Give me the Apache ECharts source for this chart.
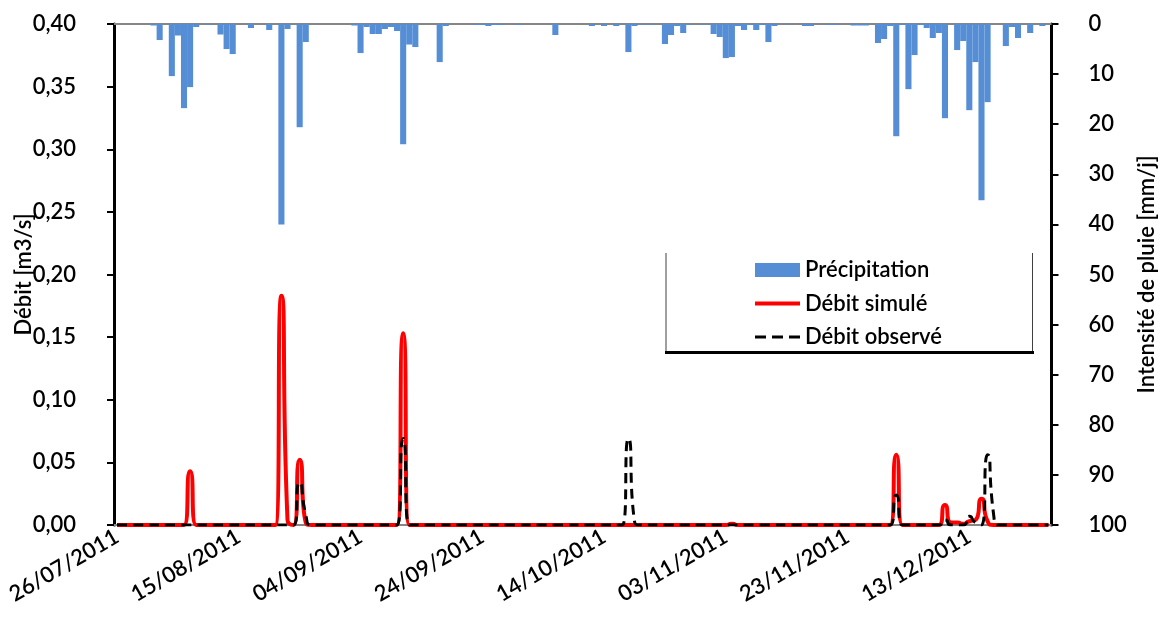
<!DOCTYPE html>
<html>
<head>
<meta charset="utf-8">
<script src="https://cdn.jsdelivr.net/npm/echarts@6/dist/echarts.min.js"></script>
<style>
html,body{margin:0;padding:0;background:#fff;}
#chart{width:1160px;height:623px;}
</style>
</head>
<body>
<div id="chart"></div>
<script>
// ---- data ----
const startDate = [2011, 7, 26];
const dayCount = 154;
const categories = [];
for (let i = 0; i < dayCount; i++) {
  const d = new Date(Date.UTC(startDate[0], startDate[1] - 1, startDate[2] + i));
  const dd = String(d.getUTCDate()).padStart(2, '0');
  const mm = String(d.getUTCMonth() + 1).padStart(2, '0');
  categories.push(dd + '/' + mm + '/' + d.getUTCFullYear());
}

// Précipitation [mm/j], one value per day
const rain = [
  0, 0, 0, 0, 0, 0, 0.3, 3.2, 0, 10.4,
  2.3, 16.8, 12.6, 0.6, 0, 0.2, 0, 2.1, 5.0, 6.0,
  0, 0, 0.8, 0, 0, 1.2, 0, 40.0, 1.0, 0,
  20.6, 3.6, 0, 0, 0, 0, 0, 0, 0, 0.3,
  5.8, 0.6, 2.0, 2.0, 1.0, 0.6, 1.4, 24.0, 4.1, 4.6,
  0, 0, 0, 7.6, 0.4, 0, 0, 0, 0, 0.2,
  0.2, 0.4, 0.2, 0.2, 0, 0, 0.2, 0, 0, 0,
  0, 0, 2.2, 0, 0, 0, 0, 0, 0.4, 0,
  0.4, 0, 0.4, 0, 5.6, 0.4, 0.1, 0.1, 0.1, 0,
  4.0, 2.2, 0.4, 1.8, 0.2, 0, 0.1, 0.1, 2.0, 2.6,
  6.8, 6.6, 0.4, 1.2, 0.2, 1.2, 0.2, 3.6, 0.4, 0,
  0.1, 0, 0, 0.4, 0.4, 0, 0, 0.2, 0.2, 0,
  0, 0.3, 0.3, 0.3, 0, 3.8, 3.0, 0.4, 22.4, 0.2,
  13.0, 6.2, 0.2, 0.8, 2.8, 1.8, 18.8, 0, 5.2, 3.4,
  17.2, 7.6, 35.2, 15.6, 0, 0, 4.4, 0.6, 2.8, 0,
  1.8, 0, 0.4, 0
];

// Débit simulé [m3/s]
const simulated = [
  0, 0, 0, 0, 0, 0, 0, 0, 0, 0,
  0, 0, 0.043, 0, 0, 0, 0, 0, 0, 0,
  0, 0, 0, 0, 0, 0, 0, 0.183, 0.004, 0,
  0.052, 0.002, 0, 0, 0, 0, 0, 0, 0, 0,
  0, 0, 0, 0, 0, 0, 0, 0.153, 0, 0,
  0, 0, 0, 0, 0, 0, 0, 0, 0, 0,
  0, 0, 0, 0, 0, 0, 0, 0, 0, 0,
  0, 0, 0, 0, 0, 0, 0, 0, 0, 0,
  0, 0, 0, 0, 0, 0, 0, 0, 0, 0,
  0, 0, 0, 0, 0, 0, 0, 0, 0, 0,
  0, 0.001, 0, 0, 0, 0, 0, 0, 0, 0,
  0, 0, 0, 0, 0, 0, 0, 0, 0, 0,
  0, 0, 0, 0, 0, 0, 0, 0, 0.056, 0,
  0, 0, 0, 0, 0, 0, 0.016, 0.002, 0.002, 0.001,
  0.003, 0.004, 0.021, 0.003, 0, 0, 0, 0, 0, 0,
  0, 0, 0, 0
];

// Débit observé [m3/s]
const observed = [
  0, 0, 0, 0, 0, 0, 0, 0, 0, 0,
  0, 0, 0, 0, 0, 0, 0, 0, 0, 0,
  0, 0, 0, 0, 0, 0, 0, 0, 0, 0,
  0.034, 0.008, 0, 0, 0, 0, 0, 0, 0, 0,
  0, 0, 0, 0, 0, 0, 0, 0.069, 0, 0,
  0, 0, 0, 0, 0, 0, 0, 0, 0, 0,
  0, 0, 0, 0, 0, 0, 0, 0, 0, 0,
  0, 0, 0, 0, 0, 0, 0, 0, 0, 0,
  0, 0, 0, 0, 0.069, 0.003, 0, 0, 0, 0,
  0, 0, 0, 0, 0, 0, 0, 0, 0, 0,
  0, 0, 0, 0, 0, 0, 0, 0, 0, 0,
  0, 0, 0, 0, 0, 0, 0, 0, 0, 0,
  0, 0, 0, 0, 0, 0, 0, 0, 0.024, 0,
  0, 0, 0, 0, 0, 0, 0.004, 0, 0, 0,
  0.007, 0.002, 0, 0.056, 0.008, 0, 0, 0, 0, 0,
  0, 0, 0, 0
];

const leftTickLabels = ['0,00', '0,05', '0,10', '0,15', '0,20', '0,25', '0,30', '0,35', '0,40'];
const rightTickLabels = ['0', '10', '20', '30', '40', '50', '60', '70', '80', '90', '100'];
const seriesNames = ['Précipitation', 'Débit simulé', 'Débit observé'];
const axisNames = ['Débit [m3/s]', 'Intensité de pluie [mm/j]'];

// ---- chart ----
const FONT = 'Lato';
const txt = { fontFamily: FONT, fontSize: 22, fontWeight: 600, color: '#000' };
const chart = echarts.init(document.getElementById('chart'), null, { renderer: 'canvas' });
chart.setOption({
  animation: false,
  backgroundColor: '#ffffff',
  grid: { left: 114, right: 108.5, top: 24, bottom: 98, containLabel: false, outerBoundsMode: 'none' },
  legend: {
    orient: 'vertical',
    left: 755,
    top: 258,
    padding: 0,
    itemWidth: 45,
    itemHeight: 14,
    itemGap: 9.5,
    symbolKeepAspect: true,
    itemStyle: { borderWidth: 0 },
    textStyle: Object.assign({}, txt, { lineHeight: 24 }),
    data: [
      { name: seriesNames[0], icon: 'rect' },
      { name: seriesNames[1], icon: 'path://M0,0H45V4H0Z' },
      { name: seriesNames[2], icon: 'path://M0,0H11V3H0Z M17,0H28V3H17Z M34,0H45V3H34Z' }
    ]
  },
  graphic: [
    { type: 'line', shape: { x1: 666, y1: 253, x2: 666, y2: 352 }, style: { stroke: '#404040', lineWidth: 1 } },
    { type: 'line', shape: { x1: 1032.5, y1: 253, x2: 1032.5, y2: 352 }, style: { stroke: '#404040', lineWidth: 1 } },
    { type: 'line', shape: { x1: 665, y1: 352.5, x2: 1034, y2: 352.5 }, style: { stroke: '#000', lineWidth: 3 } }
  ],
  xAxis: [
    {
      type: 'category',
      data: categories,
      boundaryGap: true,
      position: 'bottom',
      axisLine: { onZero: false, lineStyle: { color: '#868686', width: 2 } },
      axisTick: { interval: 19, length: 6, lineStyle: { color: '#868686', width: 2 } },
      axisLabel: Object.assign({ interval: 19, rotate: 30, margin: 10 }, txt),
      splitLine: { show: false }
    },
    {
      type: 'category',
      data: categories,
      boundaryGap: true,
      position: 'top',
      axisLine: { onZero: false, lineStyle: { color: '#868686', width: 2 } },
      axisTick: { show: false },
      axisLabel: { show: false },
      splitLine: { show: false }
    }
  ],
  yAxis: [
    {
      type: 'value',
      position: 'left',
      min: 0, max: 0.4, interval: 0.05,
      name: axisNames[0],
      nameLocation: 'middle',
      nameRotate: 90,
      nameGap: 79,
      nameMoveOverlap: false,
      nameTextStyle: txt,
      axisLine: { show: true, lineStyle: { color: '#000', width: 3 } },
      axisTick: { show: true, length: 7, lineStyle: { color: '#000', width: 2 } },
      axisLabel: Object.assign({
        margin: 38,
        formatter: v => leftTickLabels[Math.round(v / 0.05)]
      }, txt),
      splitLine: { show: false }
    },
    {
      type: 'value',
      position: 'right',
      min: 0, max: 100, interval: 10,
      inverse: true,
      name: axisNames[1],
      nameLocation: 'middle',
      nameRotate: 90,
      nameGap: 84,
      nameMoveOverlap: false,
      nameTextStyle: txt,
      axisLine: { show: true, lineStyle: { color: '#000', width: 3 } },
      axisTick: { show: true, length: 7, lineStyle: { color: '#000', width: 2 } },
      axisLabel: Object.assign({
        margin: 37,
        formatter: v => rightTickLabels[Math.round(v / 10)]
      }, txt),
      splitLine: { show: false }
    }
  ],
  series: [
    {
      name: seriesNames[0],
      type: 'bar',
      xAxisIndex: 1,
      yAxisIndex: 1,
      data: rain,
      barCategoryGap: '0%',
      barGap: '0%',
      itemStyle: { color: '#558ED5' }
    },
    {
      name: seriesNames[1],
      type: 'line',
      xAxisIndex: 0,
      yAxisIndex: 0,
      data: simulated,
      smooth: 0.8,
      symbol: 'none',
      lineStyle: { color: '#FF0000', width: 4 },
      itemStyle: { color: '#FF0000' }
    },
    {
      name: seriesNames[2],
      type: 'line',
      xAxisIndex: 0,
      yAxisIndex: 0,
      data: observed,
      smooth: 0.8,
      symbol: 'none',
      lineStyle: { color: '#000000', width: 3, type: [10, 6] },
      itemStyle: { color: '#000000' }
    }
  ]
});
</script>
</body>
</html>
